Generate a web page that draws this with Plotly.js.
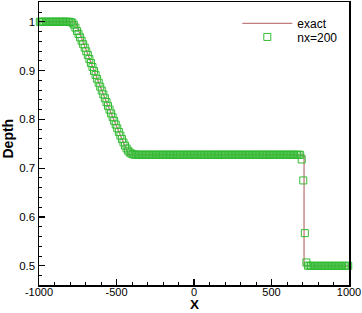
<!DOCTYPE html>
<html>
<head>
<meta charset="utf-8">
<script src="https://cdn.plot.ly/plotly-3.0.1.min.js"></script>
<style>html,body{margin:0;padding:0;background:#fff;}#chart{width:362px;height:313px;}</style>
</head>
<body>
<div id="chart"></div>
<script>
// Exact solution
const exactX = [-1000,-766,-745,-725,-705,-685,-665,-645,-625,-605,-585,-565,-545,-525,-505,-485,-465,-445,-422,710,710,1000];
const exactY = [1,1,0.9821,0.9653,0.9486,0.9320,0.9155,0.8993,0.8831,0.8671,0.8513,0.8356,0.8201,0.8046,0.7894,0.7743,0.7593,0.7445,0.7275,0.7275,0.5,0.5];

// Numerical solution nx=200 (cell centres and depths)
const numX = [
 -995,-985,-975,-965,-955,-945,-935,-925,-915,-905,
 -895,-885,-875,-865,-855,-845,-835,-825,-815,-805,
 -795,-785,-775,-765,-755,-745,-735,-725,-715,-705,
 -695,-685,-675,-665,-655,-645,-635,-625,-615,-605,
 -595,-585,-575,-565,-555,-545,-535,-525,-515,-505,
 -495,-485,-475,-465,-455,-445,-435,-425,-415,-405,
 -395,-385,-375,-365,-355,-345,-335,-325,-315,-305,
 -295,-285,-275,-265,-255,-245,-235,-225,-215,-205,
 -195,-185,-175,-165,-155,-145,-135,-125,-115,-105,
 -95,-85,-75,-65,-55,-45,-35,-25,-15,-5,
 5,15,25,35,45,55,65,75,85,95,
 105,115,125,135,145,155,165,175,185,195,
 205,215,225,235,245,255,265,275,285,295,
 305,315,325,335,345,355,365,375,385,395,
 405,415,425,435,445,455,465,475,485,495,
 505,515,525,535,545,555,565,575,585,595,
 605,615,625,635,645,655,665,675,685,695,
 705,715,725,735,745,755,765,775,785,795,
 805,815,825,835,845,855,865,875,885,895,
 905,915,925,935,945,955,965,975,985,995
];
const numY = [
 1,1,1,1,1,1,1,1,1,1,
 1,1,1,1,1,1,1,1,1,0.9999,
 0.9995,0.998,0.994,0.988,0.981,0.975,0.968,0.961,0.954,0.947,
 0.9395,0.9318,0.9237,0.9155,0.9074,0.8993,0.8912,0.8831,0.8751,0.8671,
 0.8592,0.8513,0.8434,0.8356,0.8278,0.8201,0.8123,0.8046,0.7970,0.7894,
 0.7818,0.7743,0.7670,0.7597,0.7528,0.7463,0.7405,0.7358,0.7323,0.7300,
 0.7287,0.7280,0.7277,0.7275,0.7275,0.7275,0.7275,0.7275,0.7275,0.7275,
 0.7275,0.7275,0.7275,0.7275,0.7275,0.7275,0.7275,0.7275,0.7275,0.7275,
 0.7275,0.7275,0.7275,0.7275,0.7275,0.7275,0.7275,0.7275,0.7275,0.7275,
 0.7275,0.7275,0.7275,0.7275,0.7275,0.7275,0.7275,0.7275,0.7275,0.7275,
 0.7275,0.7275,0.7275,0.7275,0.7275,0.7275,0.7275,0.7275,0.7275,0.7275,
 0.7275,0.7275,0.7275,0.7275,0.7275,0.7275,0.7275,0.7275,0.7275,0.7275,
 0.7275,0.7275,0.7275,0.7275,0.7275,0.7275,0.7275,0.7275,0.7275,0.7275,
 0.7275,0.7275,0.7275,0.7275,0.7275,0.7275,0.7275,0.7275,0.7275,0.7275,
 0.7275,0.7275,0.7275,0.7275,0.7275,0.7275,0.7275,0.7275,0.7275,0.7275,
 0.7275,0.7275,0.7275,0.7275,0.7275,0.7275,0.7275,0.7275,0.7275,0.7275,
 0.7275,0.7275,0.7275,0.7275,0.7275,0.7275,0.7275,0.7275,0.7275,0.718,
 0.675,0.567,0.507,0.5005,0.5,0.5,0.5,0.5,0.5,0.5,
 0.5,0.5,0.5,0.5,0.5,0.5,0.5,0.5,0.5,0.5,
 0.5,0.5,0.5,0.5,0.5,0.5,0.5,0.5,0.5,0.5
];

const seriesNames = ['exact', 'nx=200'];
const xTicks = [-1000, -500, 0, 500, 1000];
const yTicks = [0.5, 0.6, 0.7, 0.8, 0.9, 1];
const xTitle = 'X';
const yTitle = 'Depth';

const FONT = 'Arial, "Liberation Sans", sans-serif';

const traces = [
  {
    x: exactX, y: exactY, type: 'scatter', mode: 'lines', name: seriesNames[0],
    line: {color: '#c07d7d', width: 1.3}, legend: 'legend', cliponaxis: false
  },
  {
    x: numX, y: numY, type: 'scatter', mode: 'markers', name: seriesNames[1],
    marker: {symbol: 'square-open', size: 7, color: '#33bb33', line: {color: '#33bb33', width: 1}},
    legend: 'legend2', cliponaxis: false
  }
];

const axisCommon = {
  showgrid: false, zeroline: false,
  showline: true, linecolor: '#000', linewidth: 1.5, mirror: true,
  ticks: 'inside', ticklen: 6, tickwidth: 1.2, tickcolor: '#000',
  tickfont: {family: FONT, size: 11.5, color: '#000'},
  ticklabeloverflow: 'allow', automargin: false
};

const legendCommon = {
  xanchor: 'left', yanchor: 'middle',
  bgcolor: 'rgba(0,0,0,0)', borderwidth: 0,
  font: {family: FONT, size: 12, color: '#000'},
  itemwidth: 50
};

const layout = {
  width: 362, height: 313,
  margin: {l: 39, r: 13, t: 2, b: 28},
  paper_bgcolor: '#fff', plot_bgcolor: '#fff',
  showlegend: true,
  legend: Object.assign({}, legendCommon, {x: 0.6397, y: 0.9245}),
  legend2: Object.assign({}, legendCommon, {x: 0.6397, y: 0.8765}),
  xaxis: Object.assign({}, axisCommon, {
    range: [-1000, 1000], tickvals: xTicks, ticktext: xTicks.map(String),
    ticklabelstandoff: -4, tickfont: {family: FONT, size: 11, color: '#000'},
    minor: {dtick: 100, ticks: 'inside', ticklen: 3, tickwidth: 1, tickcolor: '#000', showgrid: false}
  }),
  yaxis: Object.assign({}, axisCommon, {
    range: [0.4608, 1.0405], tickvals: yTicks, ticktext: ['0.5','0.6','0.7','0.8','0.9','1'],
    minor: {dtick: 0.02, tick0: 0.5, ticks: 'inside', ticklen: 3, tickwidth: 1, tickcolor: '#000', showgrid: false}
  }),
  annotations: [
    {text: xTitle, xref: 'paper', yref: 'paper', x: 0.5, y: -0.0989, xanchor: 'center', yanchor: 'bottom',
     borderpad: 0, showarrow: false, font: {family: FONT, size: 13.5, color: '#000', weight: 'bold'}},
    {text: yTitle, xref: 'paper', yref: 'paper', x: -0.1016, y: 0.5159, xanchor: 'center', yanchor: 'middle',
     textangle: -90, showarrow: false, font: {family: FONT, size: 14, color: '#000', weight: 'bold'}}
  ]
};

Plotly.newPlot('chart', traces, layout, {staticPlot: true, displayModeBar: false});
</script>
</body>
</html>
